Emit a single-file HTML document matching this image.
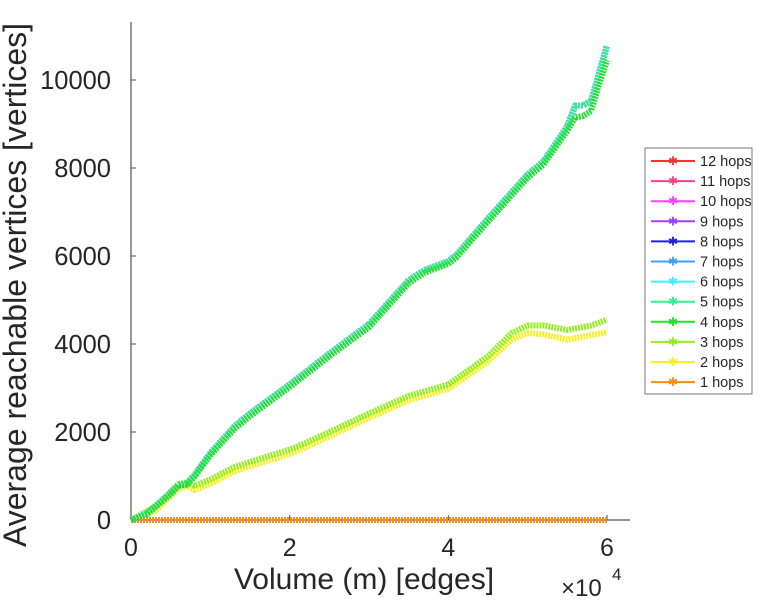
<!DOCTYPE html>
<html><head><meta charset="utf-8"><style>
body{margin:0;background:#fff;}
svg text{font-family:"Liberation Sans",sans-serif;fill:#262626;}
</style></head><body>
<svg id="chart" width="768" height="600" xmlns="http://www.w3.org/2000/svg">
<g id="axes"></g>
<g id="series"></g>
<g id="legend"></g>
</svg>
<script>
const xs = [0,2000,5000,6000,7000,8000,10000,13000,15000,20000,25000,30000,35000,37000,40000,41000,45000,50000,52000,55000,56000,57000,58000,59000,60000];
const highHops = [0,150,620,800,820,1020,1520,2120,2420,3080,3780,4450,5450,5680,5880,6020,6850,7850,8150,8950,9420,9420,9520,10150,10780];
const hop4 = [0,130,580,780,800,980,1470,2060,2360,3020,3720,4380,5380,5620,5820,5960,6780,7780,8080,8850,9150,9180,9300,9900,10450];
const hopsX3 = [0,3000,6000,7000,8000,10000,13000,15000,20000,22000,25000,30000,35000,40000,45000,48000,50000,52000,55000,58000,60000];
const hop3 = [0,300,820,850,780,920,1200,1320,1600,1750,2000,2420,2820,3080,3720,4250,4420,4420,4320,4420,4550];
const hop2 = [0,200,720,780,680,820,1100,1220,1500,1650,1900,2320,2720,2980,3600,4100,4250,4220,4100,4200,4270];
const hop1 = [0,0];
const hop1X = [0,60000];
const yTicks = [0,2000,4000,6000,8000,10000];
const xTicks = [0,20000,40000,60000];
const xTickLabels = ["0","2","4","6"];
const legendLabels = ["12 hops","11 hops","10 hops","9 hops","8 hops","7 hops","6 hops","5 hops","4 hops","3 hops","2 hops","1 hops"];
const legendColors = ["#ff3030","#ff4090","#ff40ff","#a040ff","#2020e0","#40a0ff","#40f0ff","#30f090","#20e030","#90f020","#f8f020","#ff8c10"];

const NS="http://www.w3.org/2000/svg";
const X0=131, X1=607, Y0=520, Y10k=80;
const sx=v=>X0+(v/60000)*(X1-X0);
const sy=v=>Y0-(v/10000)*(Y0-Y10k);
function mk(tag,attrs,parent,text){const e=document.createElementNS(NS,tag);for(const k in attrs)e.setAttribute(k,attrs[k]);if(text!==undefined)e.textContent=text;parent.appendChild(e);return e;}
const axes=document.getElementById('axes');
let e=mk('line',{x1:X0,y1:22,x2:X0,y2:Y0,stroke:'#555','stroke-width':1.2},axes);

e=mk('line',{x1:X0,y1:Y0,x2:630,y2:Y0,stroke:'#555','stroke-width':1.2},axes);

yTicks.forEach(v=>{
  mk('line',{x1:X0,y1:sy(v),x2:X0+5,y2:sy(v),stroke:'#555'},axes);
  e=mk('text',{x:X0-20,y:sy(v)+9,'text-anchor':'end','font-size':25.5},axes,String(v));
  
});
xTicks.forEach((v,i)=>{
  mk('line',{x1:sx(v),y1:Y0,x2:sx(v),y2:Y0-5,stroke:'#555'},axes);
  e=mk('text',{x:sx(v),y:Y0+36,'text-anchor':'middle','font-size':25},axes,xTickLabels[i]);
  
});
e=mk('text',{x:364,y:589,'text-anchor':'middle','font-size':30},axes,'Volume (m) [edges]');

e=mk('text',{x:561,y:596,'font-size':24},axes,'×10');

mk('text',{x:612,y:580,'font-size':17},axes,'4');
e=mk('text',{x:0,y:0,'text-anchor':'middle','font-size':32,transform:'translate(26,285) rotate(-90)'},axes,'Average reachable vertices [vertices]');


const series=document.getElementById('series');
function drawLine(xArr,yArr,color,name,w){
  const pts=xArr.map((x,i)=>sx(x)+','+sy(yArr[i])).join(' ');
  const p=mk('polyline',{points:pts,fill:'none',stroke:color,'stroke-width':w,'stroke-linejoin':'round','stroke-dasharray':'2 1'},series);
  
  
}
drawLine(hop1X,hop1,legendColors[11],'line-1-hops',6);
drawLine(hopsX3,hop2,legendColors[10],'line-2-hops',6);
drawLine(hopsX3,hop3,legendColors[9],'line-3-hops',6);
for(let k=0;k<8;k++) drawLine(xs,highHops,legendColors[k],'line-'+(12-k)+'-hops',6);
drawLine(xs,hop4,legendColors[8],'line-4-hops',6);

const lg=document.getElementById('legend');
e=mk('rect',{x:645,y:148,width:107,height:246,fill:'#fff',stroke:'#777','stroke-width':1},lg);

legendLabels.forEach((lab,i)=>{
  const y=161+i*20.1;
  const g=mk('g',{},lg);
  
  
  mk('line',{x1:651,y1:y,x2:695,y2:y,stroke:legendColors[i],'stroke-width':2},g);
  mk('text',{x:673,y:y+4,'text-anchor':'middle','font-size':12,style:'fill:'+legendColors[i]},g,'✱');
  mk('text',{x:700,y:y+5,'font-size':14.5},g,lab);
});
</script>
</body></html>
